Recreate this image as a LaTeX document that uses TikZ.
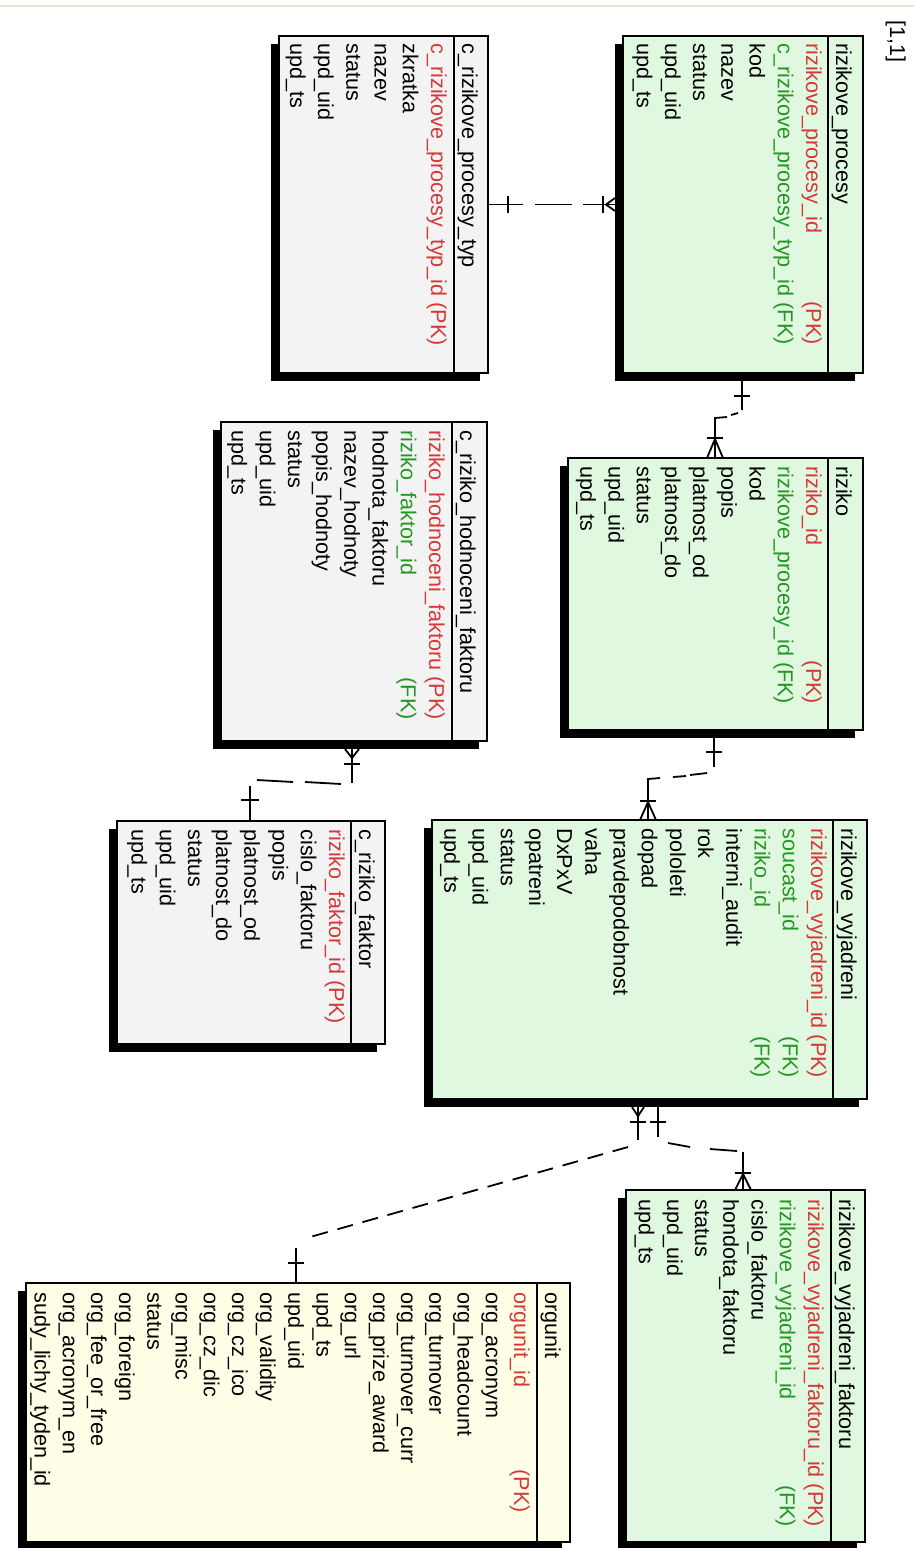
\documentclass[tikz,border=0pt]{standalone}
\usepackage{fontspec}
\setmainfont{Liberation Sans}
\usetikzlibrary{fit,shadows,calc}

\definecolor{pkred}{RGB}{214,56,56}
\definecolor{fkgreen}{RGB}{36,150,36}
\definecolor{entgreen}{RGB}{224,248,224}
\definecolor{entgrey}{RGB}{243,243,243}
\definecolor{entyellow}{RGB}{255,255,232}
\definecolor{pagerule}{RGB}{228,228,214}

\newcommand{\erfont}{\fontsize{10.8}{13}\selectfont}

% plain column rows of a table: #1 table, #2 baseline of row 1, #3 start, #4 first index, #5 names
\newcommand{\fieldrows}[5]{%
  \foreach \t [count=\i from #4] in {#5}
    \node[fld] (#1-r\i) at ({#2-28.2*(\i-1)},#3) {\t};}

\begin{document}
\begin{tikzpicture}[x=0.5pt,y=-0.5pt,
  tbl/.style={draw=black, line width=0.8pt, inner sep=0pt,
    drop shadow={shadow xshift=-4pt, shadow yshift=-4pt, opacity=1, fill=black}},
  sepline/.style={line width=0.8pt},
  fld/.style={rotate=-90, anchor=base west, inner sep=0pt, font=\erfont},
  keyr/.style={rotate=-90, anchor=base east, inner sep=0pt, font=\erfont},
  pk/.style={text=pkred},
  fk/.style={text=fkgreen},
  conn/.style={line width=0.9pt, black},
  longdash/.style={conn, dash pattern=on 8pt off 5pt}]

\useasboundingbox (0,0) rectangle (914,1548);
\fill[white] (0,0) rectangle (914,1548);
\draw[pagerule, line width=1.2pt] (0,6) -- (914,6);
\node[fld] (pg) at (890,20) {[1,1]};

% ---------- rizikove_procesy ----------
\node[tbl, fill=entgreen, fit={(623,36) (863,373)}] (rp) {};
\draw[sepline] (828,36) -- (828,373);
\node[fld] (rp-t) at (836,43) {rizikove\_procesy};
\node[fld,pk] (rp-r1) at (806,43) {rizikove\_procesy\_id};
\node[fld,fk] (rp-r2) at (777.8,43) {c\_rizikove\_procesy\_typ\_id (FK)};
\node[keyr,pk] (rp-k1) at ([xshift=14.1pt]rp-r2.base east) {(PK)};
\fieldrows{rp}{806}{43}{3}{kod,nazev,status,upd\_uid,upd\_ts}

% ---------- c_rizikove_procesy_typ ----------
\node[tbl, fill=entgrey, fit={(279,36) (488,373)}] (crpt) {};
\draw[sepline] (454,36) -- (454,373);
\node[fld] (crpt-t) at (462,43) {c\_rizikove\_procesy\_typ};
\node[fld,pk] (crpt-r1) at (431,43) {c\_rizikove\_procesy\_typ\_id (PK)};
\fieldrows{crpt}{431}{43}{2}{zkratka,nazev,status,upd\_uid,upd\_ts}

% ---------- riziko ----------
\node[tbl, fill=entgreen, fit={(568,458) (863,730)}] (r) {};
\draw[sepline] (828,458) -- (828,730);
\node[fld] (r-t) at (836,466) {riziko};
\node[fld,pk] (r-r1) at (806,466) {riziko\_id};
\node[fld,fk] (r-r2) at (777.8,466) {rizikove\_procesy\_id (FK)};
\node[keyr,pk] (r-k1) at ([xshift=14.1pt]r-r2.base east) {(PK)};
\fieldrows{r}{806}{466}{3}{kod,popis,platnost\_od,platnost\_do,status,upd\_uid,upd\_ts}

% ---------- c_riziko_hodnoceni_faktoru ----------
\node[tbl, fill=entgrey, fit={(221,422) (487,741)}] (crhf) {};
\draw[sepline] (452,422) -- (452,741);
\node[fld] (crhf-t) at (460,430) {c\_riziko\_hodnoceni\_faktoru};
\node[fld,pk] (crhf-r1) at (429,430) {riziko\_hodnoceni\_faktoru (PK)};
\node[fld,fk] (crhf-r2) at (400.8,430) {riziko\_faktor\_id};
\node[keyr,fk] (crhf-k2) at ([xshift=-14.1pt]crhf-r1.base east) {(FK)};
\fieldrows{crhf}{429}{430}{3}{hodnota\_faktoru,nazev\_hodnoty,popis\_hodnoty,status,upd\_uid,upd\_ts}

% ---------- rizikove_vyjadreni ----------
\node[tbl, fill=entgreen, fit={(432,820) (867,1099)}] (rv) {};
\draw[sepline] (833,820) -- (833,1099);
\node[fld] (rv-t) at (841,828) {rizikove\_vyjadreni};
\node[fld,pk] (rv-r1) at (811,828) {rizikove\_vyjadreni\_id (PK)};
\node[fld,fk] (rv-r2) at (782.8,828) {soucast\_id};
\node[keyr,fk] (rv-k2) at ([xshift=-14.1pt]rv-r1.base east) {(FK)};
\node[fld,fk] (rv-r3) at (754.6,828) {riziko\_id};
\node[keyr,fk] (rv-k3) at ([xshift=-28.2pt]rv-r1.base east) {(FK)};
\fieldrows{rv}{811}{828}{4}{interni\_audit,rok,pololeti,dopad,pravdepodobnost,vaha,DxPxV,opatreni,status,upd\_uid,upd\_ts}

% ---------- c_riziko_faktor ----------
\node[tbl, fill=entgrey, fit={(117,821) (385,1044)}] (crf) {};
\draw[sepline] (351,821) -- (351,1044);
\node[fld] (crf-t) at (359,829) {c\_riziko\_faktor};
\node[fld,pk] (crf-r1) at (329,829) {riziko\_faktor\_id (PK)};
\fieldrows{crf}{329}{829}{2}{cislo\_faktoru,popis,platnost\_od,platnost\_do,status,upd\_uid,upd\_ts}

% ---------- rizikove_vyjadreni_faktoru ----------
\node[tbl, fill=entgreen, fit={(626,1190) (865,1542)}] (rvf) {};
\draw[sepline] (831,1190) -- (831,1542);
\node[fld] (rvf-t) at (839,1199) {rizikove\_vyjadreni\_faktoru};
\node[fld,pk] (rvf-r1) at (808,1199) {rizikove\_vyjadreni\_faktoru\_id (PK)};
\node[fld,fk] (rvf-r2) at (779.8,1199) {rizikove\_vyjadreni\_id};
\node[keyr,fk] (rvf-k2) at ([xshift=-14.1pt]rvf-r1.base east) {(FK)};
\fieldrows{rvf}{808}{1199}{3}{cislo\_faktoru,hondota\_faktoru,status,upd\_uid,upd\_ts}

% ---------- orgunit ----------
\node[tbl, fill=entyellow, fit={(26,1283) (570,1542)}] (ou) {};
\draw[sepline] (537,1283) -- (537,1542);
\node[fld] (ou-t) at (545,1292) {orgunit};
\node[fld,pk] (ou-r1) at (514,1292) {orgunit\_id};
\node[keyr,pk] (ou-k1) at (514,1513) {(PK)};
\fieldrows{ou}{514}{1292}{2}{org\_acronym,org\_headcount,org\_turnover,org\_turnover\_curr,org\_prize\_award,org\_url,upd\_ts,upd\_uid,org\_validity,org\_cz\_ico,org\_cz\_dic,org\_misc,status,org\_foreign,org\_fee\_or\_free,org\_acronym\_en,sudy\_lichy\_tyden\_id}

% ---------- relationships ----------
% c_rizikove_procesy_typ -> rizikove_procesy
\draw[conn] (crpt.east) -- (523,204.5) (535,204.5) -- (572,204.5) (583,204.5) -- (rp.west);
\draw[conn] (508,196) -- (508,213);
\draw[conn] (603,196) -- (603,213);
\draw[conn] (606,204.5) -- (615,198) (606,204.5) -- (615,211);
\fill (607,204.5) circle (0.9pt);

% rizikove_procesy -> riziko
\coordinate (c2a) at (742,0);
\coordinate (c2b) at (715,0);
\draw[conn] (c2a |- rp.south) -- (742,410);
\draw[conn] (738,413) -- (731,415);
\draw[conn] (727,417) -- (715,418) -- (c2b |- r.north);
\draw[conn] (734,396) -- (750,396);
\draw[conn] (707,438) -- (723,438);
\draw[conn] (707,458) -- (715,439) -- (723,458);

% riziko -> rizikove_vyjadreni
\coordinate (c3a) at (714,0);
\coordinate (c3b) at (648,0);
\draw[conn] (c3a |- r.south) -- (714,767);
\draw[conn] (706,752) -- (722,752);
\draw[conn] (707,773) -- (690,775) (686,776) -- (673,777);
\draw[conn] (660,778) -- (648,779) -- (c3b |- rv.north);
\draw[conn] (640,801) -- (656,801);
\draw[conn] (640,820) -- (648,802) -- (656,820);

% c_riziko_faktor -> c_riziko_hodnoceni_faktoru
\coordinate (c4a) at (352,0);
\coordinate (c4b) at (250,0);
\draw[conn] (c4a |- crhf.south) -- (352,783);
\draw[conn] (345,749) -- (352,758) -- (359,749);
\fill (352,757) circle (0.9pt);
\draw[conn] (344,764) -- (360,764);
\draw[conn] (341,784) -- (305,782) (293,782) -- (257,780);
\draw[conn] (250,786) -- (c4b |- crf.north);
\draw[conn] (241,800) -- (259,800);

% rizikove_vyjadreni -> rizikove_vyjadreni_faktoru
\coordinate (c5a) at (658,0);
\coordinate (c5b) at (743,0);
\draw[conn] (c5a |- rv.south) -- (658,1137);
\draw[conn] (650,1122) -- (666,1122);
\draw[conn] (668,1143) -- (690,1147) (710,1149) -- (737,1151);
\draw[conn] (743,1152) -- (c5b |- rvf.north);
\draw[conn] (735,1173) -- (751,1173);
\draw[conn] (735,1190) -- (743,1174) -- (751,1190);

% orgunit -> rizikove_vyjadreni
\coordinate (c6a) at (638,0);
\coordinate (c6b) at (296,0);
\draw[conn] (c6a |- rv.south) -- (638,1140);
\draw[conn] (632,1107) -- (638,1116) -- (644,1107);
\fill (638,1115) circle (0.9pt);
\draw[conn] (630,1122) -- (646,1122);
\draw[longdash] (628,1147) -- (303,1239);
\draw[conn] (296,1248) -- (c6b |- ou.north);
\draw[conn] (288,1263) -- (304,1263);

\end{tikzpicture}
\end{document}
